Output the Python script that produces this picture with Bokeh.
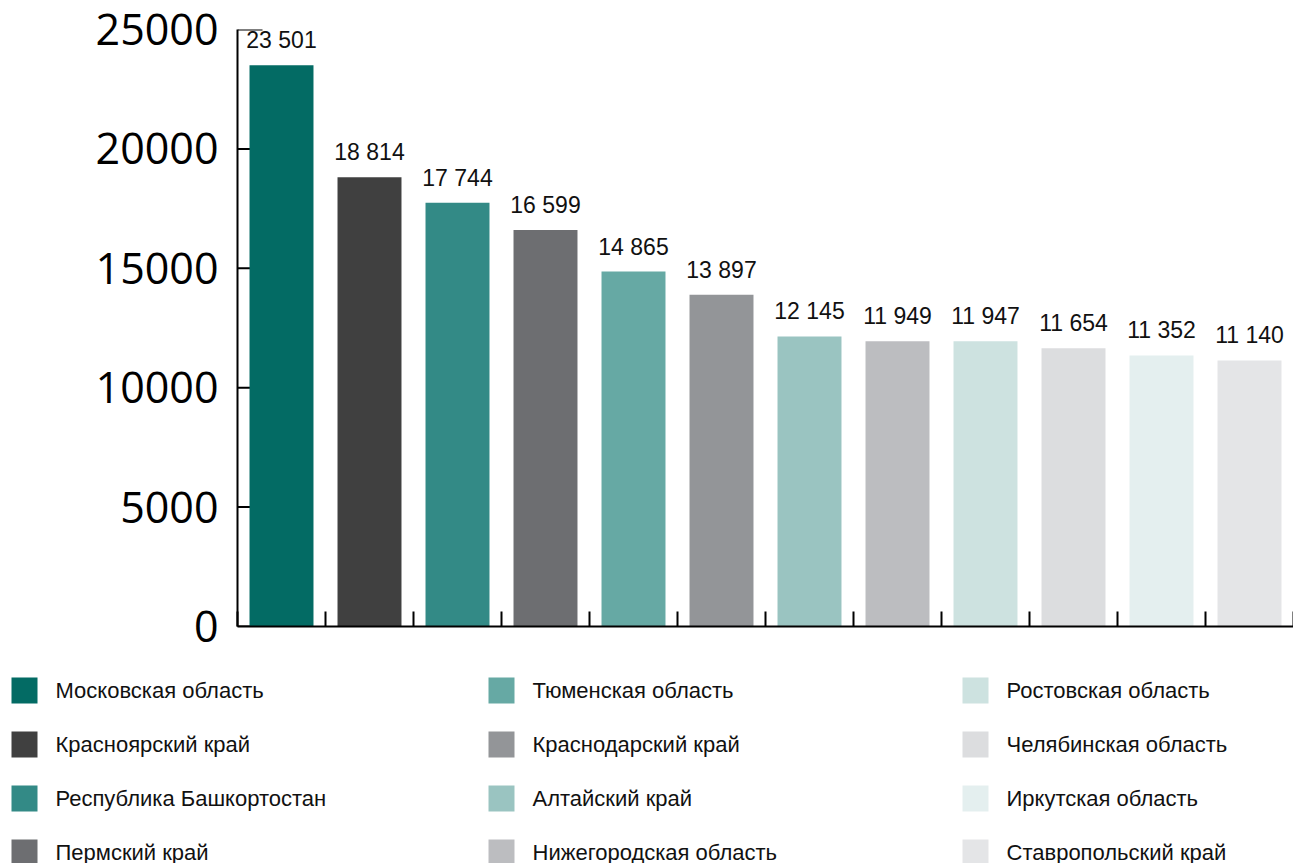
from bokeh.plotting import figure
from bokeh.models import Range1d, FixedTicker, ColumnDataSource
from bokeh.layouts import column, row
from bokeh.core.properties import value
from bokeh.embed import file_html
from bokeh.resources import INLINE

regions = ["Московская область", "Красноярский край", "Республика Башкортостан",
           "Пермский край", "Тюменская область", "Краснодарский край",
           "Алтайский край", "Нижегородская область", "Ростовская область",
           "Челябинская область", "Иркутская область", "Ставропольский край"]
values = [23501, 18814, 17744, 16599, 14865, 13897, 12145, 11949, 11947, 11654, 11352, 11140]
colors = ["#036B64", "#404040", "#338A86", "#6D6E71", "#66A9A4", "#939598",
          "#9AC4C1", "#BCBDC0", "#CDE2E0", "#DCDDDF", "#E4EFEF", "#E4E5E7"]
y_ticks = [0, 5000, 10000, 15000, 20000, 25000]

n = len(regions)
src = ColumnDataSource(dict(
    x=[i + 0.5 for i in range(n)],
    top=values,
    color=colors,
    label=[f"{v:,}".replace(",", " ") for v in values],
    name=regions,
))

p = figure(width=1293, height=660, output_backend="svg", toolbar_location=None,
           x_range=Range1d(0, n), y_range=Range1d(0, 25000),
           min_border_top=29, min_border_left=237, min_border_right=0, min_border_bottom=34)
p.outline_line_color = None
p.xgrid.visible = False
p.ygrid.visible = False
p.background_fill_color = "white"
p.border_fill_color = "white"

# y ticks drawn beneath the bars (added first so bars cover them)
tick_len = 25 / 88
p.segment(x0=[0] * len(y_ticks), x1=[tick_len] * len(y_ticks), y0=y_ticks, y1=y_ticks,
          line_color="black", line_width=2)

bars = p.vbar(x="x", top="top", width=0.727, bottom=0, fill_color="color",
              line_color=None, source=src)
p.text(x="x", y="top", text="label", source=src, text_font=value("Liberation Sans"),
       text_font_size="23px", text_align="center", text_baseline="middle",
       y_offset=-25, text_color="#111111")

ya = p.yaxis[0]
ya.ticker = FixedTicker(ticks=y_ticks)
ya.major_tick_in = 0
ya.major_tick_out = 0
ya.minor_tick_in = 0
ya.minor_tick_out = 0
ya.axis_line_width = 2
ya.major_label_standoff = 19
ya.major_label_text_font = "Open Sans"
ya.major_label_text_font_size = "43px"
ya.major_label_text_color = "black"

xa = p.xaxis[0]
xa.ticker = FixedTicker(ticks=list(range(0, n + 1)))
xa.major_tick_in = 15
xa.major_tick_out = 0
xa.minor_tick_in = 0
xa.minor_tick_out = 0
xa.major_tick_line_width = 2
xa.axis_line_width = 2
xa.major_label_overrides = {i: "" for i in range(0, n + 1)}
xa.major_label_standoff = 0

# Legend panel (pixel-like coordinates)
lg = figure(width=1293, height=203, output_backend="svg", toolbar_location=None,
            x_range=Range1d(0, 1293), y_range=Range1d(203, 0),
            x_axis_location=None, y_axis_location=None, min_border=0)
lg.xgrid.visible = False
lg.ygrid.visible = False
lg.outline_line_color = None

col_x = [24, 501, 975]
lx = [col_x[i // 4] for i in range(n)]
ly = [30 + 54 * (i % 4) for i in range(n)]
lsrc = ColumnDataSource(dict(x=lx, y=ly, tx=[v + 31 for v in lx], color=colors, name=regions))
lg.rect(x="x", y="y", width=26, height=26, fill_color="color", line_color=None, source=lsrc)
lg.text(x="tx", y="y", text="name", source=lsrc, text_font=value("Liberation Sans"),
        text_font_size="22px", text_align="left", text_baseline="middle", text_color="#111111")

layout = column(p, row(lg, spacing=0), spacing=0)
open("out.html", "w").write(file_html(layout, INLINE))
